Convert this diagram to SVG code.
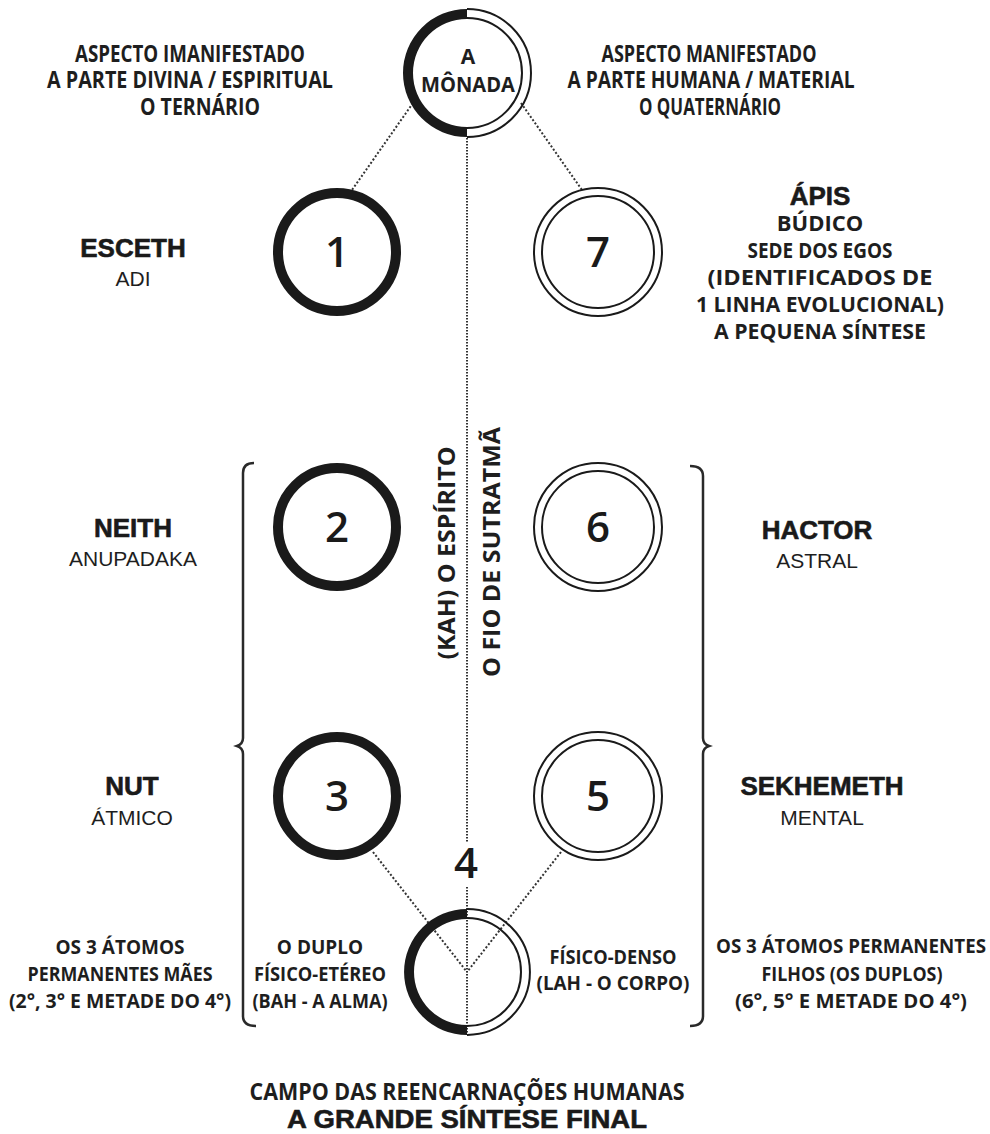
<svg xmlns="http://www.w3.org/2000/svg" width="990" height="1134" viewBox="0 0 990 1134">
<style>
.t{font-family:"Open Sans","Liberation Sans",sans-serif;font-weight:700;fill:#1e1e1e;text-anchor:middle}
.b{font-family:"Liberation Sans",Arial,sans-serif;font-weight:bold;font-size:26px;fill:#1a1a1a;stroke:#1a1a1a;stroke-width:0.6;text-anchor:middle}
.s{font-family:"Liberation Sans",Arial,sans-serif;font-size:21px;fill:#1e1e1e;text-anchor:middle}
.n{font-family:"Open Sans","Liberation Sans",sans-serif;font-weight:600;font-size:42px;fill:#1a1a1a;text-anchor:middle}
.dark{fill:none;stroke:#1a1a1a;stroke-width:10}
.thin{fill:none;stroke:#1a1a1a;stroke-width:2}
.dot{fill:none;stroke:#333;stroke-width:2;stroke-dasharray:2 2}
.vdot{fill:none;stroke:#333;stroke-width:2;stroke-dasharray:1.5 1.5}
.brace{fill:none;stroke:#2a2a2a;stroke-width:2.5}
</style>
<rect width="990" height="1134" fill="#fff"/>

<g id="connectors">
<line class="vdot" x1="467" y1="138" x2="467" y2="842"/>
<line class="vdot" x1="467" y1="887" x2="467" y2="1034"/>
<line class="dot" x1="413" y1="103" x2="352" y2="190"/>
<line class="dot" x1="521" y1="103" x2="582" y2="190"/>
<line class="dot" x1="373" y1="852" x2="467" y2="972"/>
<line class="dot" x1="561" y1="852" x2="467" y2="972"/>
</g>

<g id="monada">
<path d="M467 9 A64 64 0 0 0 467 137 L467 127 A54 54 0 0 1 467 19 Z" fill="#1a1a1a"/>
<path class="thin" d="M467 9 A64 64 0 0 1 467 137 M467 18 A55 55 0 0 1 467 128"/>
<text class="t" x="468" y="64" font-size="21">A</text>
<text class="t" x="468" y="92" font-size="21" textLength="94" lengthAdjust="spacingAndGlyphs">MÔNADA</text>
</g>

<g id="aspecto-imanifestado">
<text class="t" x="190" y="62" font-size="23" textLength="230" lengthAdjust="spacingAndGlyphs">ASPECTO IMANIFESTADO</text>
<text class="t" x="190" y="88" font-size="23" textLength="286" lengthAdjust="spacingAndGlyphs">A PARTE DIVINA / ESPIRITUAL</text>
<text class="t" x="200" y="115" font-size="23" textLength="120" lengthAdjust="spacingAndGlyphs">O TERNÁRIO</text>
</g>

<g id="aspecto-manifestado">
<text class="t" x="709" y="62" font-size="23" textLength="215" lengthAdjust="spacingAndGlyphs">ASPECTO MANIFESTADO</text>
<text class="t" x="711" y="88" font-size="23" textLength="287" lengthAdjust="spacingAndGlyphs">A PARTE HUMANA / MATERIAL</text>
<text class="t" x="710" y="115" font-size="23" textLength="142" lengthAdjust="spacingAndGlyphs">O QUATERNÁRIO</text>
</g>

<g id="c1">
<circle class="dark" cx="337" cy="252" r="59"/>
<text class="n" x="337" y="267">1</text>
</g>
<g id="c2">
<circle class="dark" cx="337" cy="527" r="59"/>
<text class="n" x="337" y="542">2</text>
</g>
<g id="c3">
<circle class="dark" cx="337" cy="796" r="59"/>
<text class="n" x="337" y="811">3</text>
</g>
<g id="c7">
<circle class="thin" cx="598" cy="252" r="64"/>
<circle class="thin" cx="598" cy="252" r="56"/>
<text class="n" x="598" y="267">7</text>
</g>
<g id="c6">
<circle class="thin" cx="598" cy="527" r="64"/>
<circle class="thin" cx="598" cy="527" r="56"/>
<text class="n" x="598" y="542">6</text>
</g>
<g id="c5">
<circle class="thin" cx="598" cy="796" r="64"/>
<circle class="thin" cx="598" cy="796" r="56"/>
<text class="n" x="598" y="811">5</text>
</g>

<g id="c4">
<path d="M467 909 A63 63 0 0 0 467 1035 L467 1025 A53 53 0 0 1 467 919 Z" fill="#1a1a1a"/>
<path class="thin" d="M467 909 A63 63 0 0 1 467 1035 M467 918 A54 54 0 0 1 467 1026"/>
<text class="n" x="466" y="878">4</text>
</g>

<g id="sutratma">
<text class="t" font-size="24" transform="translate(455 553) rotate(-90)" textLength="213" lengthAdjust="spacingAndGlyphs">(KAH) O ESPÍRITO</text>
<text class="t" font-size="24" transform="translate(500 552) rotate(-90)" textLength="250" lengthAdjust="spacingAndGlyphs">O FIO DE SUTRATMÃ</text>
</g>

<g id="esceth">
<text class="b" x="133" y="257">ESCETH</text>
<text class="s" x="133" y="286">ADI</text>
</g>
<g id="neith">
<text class="b" x="133" y="537">NEITH</text>
<text class="s" x="133" y="566">ANUPADAKA</text>
</g>
<g id="nut">
<text class="b" x="132" y="795">NUT</text>
<text class="s" x="132" y="825">ÁTMICO</text>
</g>
<g id="apis">
<text class="b" x="820" y="205">ÁPIS</text>
<text class="t" x="820" y="231" font-size="22">BÚDICO</text>
<text class="t" x="820" y="258" font-size="22" textLength="145" lengthAdjust="spacingAndGlyphs">SEDE DOS EGOS</text>
<text class="t" x="820" y="285" font-size="22" textLength="225" lengthAdjust="spacingAndGlyphs">(IDENTIFICADOS DE</text>
<text class="t" x="820" y="312" font-size="22" textLength="248" lengthAdjust="spacingAndGlyphs">1 LINHA EVOLUCIONAL)</text>
<text class="t" x="820" y="339" font-size="22" textLength="212" lengthAdjust="spacingAndGlyphs">A PEQUENA SÍNTESE</text>
</g>
<g id="hactor">
<text class="b" x="817" y="539">HACTOR</text>
<text class="s" x="817" y="568">ASTRAL</text>
</g>
<g id="sekhemeth">
<text class="b" x="822" y="795">SEKHEMETH</text>
<text class="s" x="822" y="825">MENTAL</text>
</g>

<g id="braces">
<path class="brace" d="M254 463 Q243 463 243 473 L243 738 Q243 744 237 746 Q243 748 243 754 L243 1016 Q243 1026 256 1026"/>
<path class="brace" d="M690 466 Q703 466 703 476 L703 738 Q703 744 709 746 Q703 748 703 754 L703 1016 Q703 1026 690 1026"/>
</g>

<g id="maes">
<text class="t" x="120" y="954" font-size="19">OS 3 ÁTOMOS</text>
<text class="t" x="120" y="981" font-size="19" textLength="185" lengthAdjust="spacingAndGlyphs">PERMANENTES MÃES</text>
<text class="t" x="120" y="1008" font-size="19" textLength="222" lengthAdjust="spacingAndGlyphs">(2°, 3° E METADE DO 4°)</text>
</g>
<g id="duplo">
<text class="t" x="320" y="954" font-size="19">O DUPLO</text>
<text class="t" x="320" y="981" font-size="19" textLength="132" lengthAdjust="spacingAndGlyphs">FÍSICO-ETÉREO</text>
<text class="t" x="320" y="1008" font-size="19" textLength="135" lengthAdjust="spacingAndGlyphs">(BAH - A ALMA)</text>
</g>
<g id="denso">
<text class="t" x="613" y="964" font-size="19" textLength="127" lengthAdjust="spacingAndGlyphs">FÍSICO-DENSO</text>
<text class="t" x="613" y="990" font-size="19" textLength="153" lengthAdjust="spacingAndGlyphs">(LAH - O CORPO)</text>
</g>
<g id="filhos">
<text class="t" x="851" y="953" font-size="19" textLength="270" lengthAdjust="spacingAndGlyphs">OS 3 ÁTOMOS PERMANENTES</text>
<text class="t" x="852" y="981" font-size="19" textLength="181" lengthAdjust="spacingAndGlyphs">FILHOS (OS DUPLOS)</text>
<text class="t" x="851" y="1008" font-size="19" textLength="232" lengthAdjust="spacingAndGlyphs">(6°, 5° E METADE DO 4°)</text>
</g>

<g id="campo">
<text class="t" x="467" y="1100" font-size="23" textLength="435" lengthAdjust="spacingAndGlyphs">CAMPO DAS REENCARNAÇÕES HUMANAS</text>
<text class="b" x="467" y="1128" textLength="360" lengthAdjust="spacingAndGlyphs">A GRANDE SÍNTESE FINAL</text>
</g>
</svg>
